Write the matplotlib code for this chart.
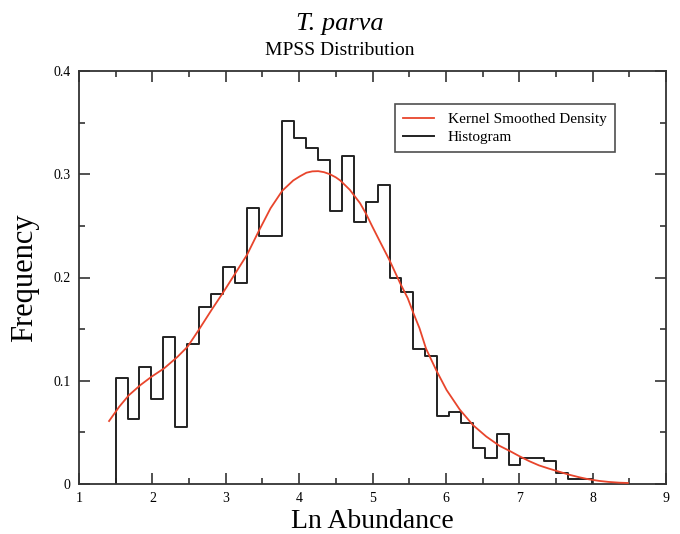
import matplotlib
matplotlib.use("Agg")
import matplotlib.pyplot as plt
from matplotlib.ticker import MultipleLocator, FuncFormatter
import numpy as np

plt.rcParams['font.family'] = ['Liberation Serif', 'DejaVu Serif']

# Histogram (40 bins)
bin_start = 1.50
bin_end = 7.99
hist_freq = [0.103, 0.063, 0.113, 0.082, 0.142, 0.055, 0.136, 0.171, 0.184, 0.210,
             0.195, 0.267, 0.240, 0.240, 0.352, 0.335, 0.325, 0.314, 0.264, 0.318,
             0.254, 0.273, 0.290, 0.200, 0.186, 0.131, 0.124, 0.066, 0.070, 0.059,
             0.035, 0.025, 0.048, 0.018, 0.025, 0.025, 0.022, 0.011, 0.005, 0.005]

# Kernel smoothed density curve
kde_x = [1.41, 1.55, 1.68, 1.84, 1.99, 2.16, 2.34, 2.48, 2.63, 2.81, 2.96, 3.13,
         3.29, 3.45, 3.61, 3.77, 3.92, 4.01, 4.10, 4.18, 4.26, 4.34, 4.42, 4.50,
         4.56, 4.69, 4.83, 4.91, 5.00, 5.10, 5.23, 5.38, 5.48, 5.56, 5.64, 5.73,
         5.87, 6.01, 6.19, 6.37, 6.55, 6.73, 6.87, 7.00, 7.14, 7.27, 7.40, 7.54,
         7.68, 7.82, 7.95, 8.09, 8.22, 8.36, 8.48]
kde_y = [0.061, 0.075, 0.086, 0.096, 0.104, 0.112, 0.123, 0.133, 0.149, 0.169,
         0.185, 0.204, 0.222, 0.245, 0.267, 0.284, 0.294, 0.298, 0.3015, 0.3028,
         0.303, 0.302, 0.300, 0.297, 0.294, 0.285, 0.272, 0.262, 0.249, 0.235,
         0.217, 0.194, 0.180, 0.165, 0.151, 0.131, 0.110, 0.091, 0.072, 0.057,
         0.046, 0.037, 0.032, 0.027, 0.022, 0.018, 0.015, 0.012, 0.009, 0.0065,
         0.0045, 0.003, 0.002, 0.0013, 0.001]

fig = plt.figure(figsize=(6.8, 5.34), dpi=100)
ax = fig.add_axes([79/680, 50/534, 587/680, 413/534])

edges = np.linspace(bin_start, bin_end, len(hist_freq) + 1)
sx = [edges[0]]
sy = [0.0]
for i, f in enumerate(hist_freq):
    sx += [edges[i], edges[i + 1]]
    sy += [f, f]
sx.append(edges[-1])
sy.append(0.0)

ax.plot(kde_x, kde_y, color='#e8452c', lw=1.3, label='Kernel Smoothed Density',
        zorder=3, solid_joinstyle='round')
ax.plot(sx, sy, color='#222222', lw=1.4, label='Histogram', zorder=2)

ax.set_xlim(1, 9)
ax.set_ylim(0, 0.4)
ax.xaxis.set_major_locator(MultipleLocator(1))
ax.xaxis.set_minor_locator(MultipleLocator(0.5))
ax.yaxis.set_major_locator(MultipleLocator(0.1))
ax.yaxis.set_minor_locator(MultipleLocator(0.05))
ax.yaxis.set_major_formatter(FuncFormatter(lambda v, p: '0' if abs(v) < 1e-9 else f'{v:.1f}'))
ax.tick_params(which='both', direction='in', top=True, right=True, width=1.2, color='#333333')
ax.tick_params(which='major', length=8, labelsize=10, pad=6)
ax.tick_params(which='minor', length=4.5)
for s in ax.spines.values():
    s.set_linewidth(1.3)
    s.set_color('#333333')

ax.set_xlabel('Ln Abundance', fontsize=20, labelpad=3)
ax.set_ylabel('Frequency', fontsize=22, labelpad=10)

fig.text(0.5, 0.955, 'T. parva', ha='center', va='center', fontsize=19, style='italic')
fig.text(0.5, 0.905, 'MPSS Distribution', ha='center', va='center', fontsize=14)

leg = ax.legend(loc='upper right', bbox_to_anchor=(0.926, 0.938), fontsize=11,
                frameon=True, fancybox=False, edgecolor='#222222', handlelength=2.0,
                handletextpad=0.9, borderpad=0.55, labelspacing=0.25)
leg.get_frame().set_linewidth(1.2)

fig.savefig('out.png', dpi=100)
